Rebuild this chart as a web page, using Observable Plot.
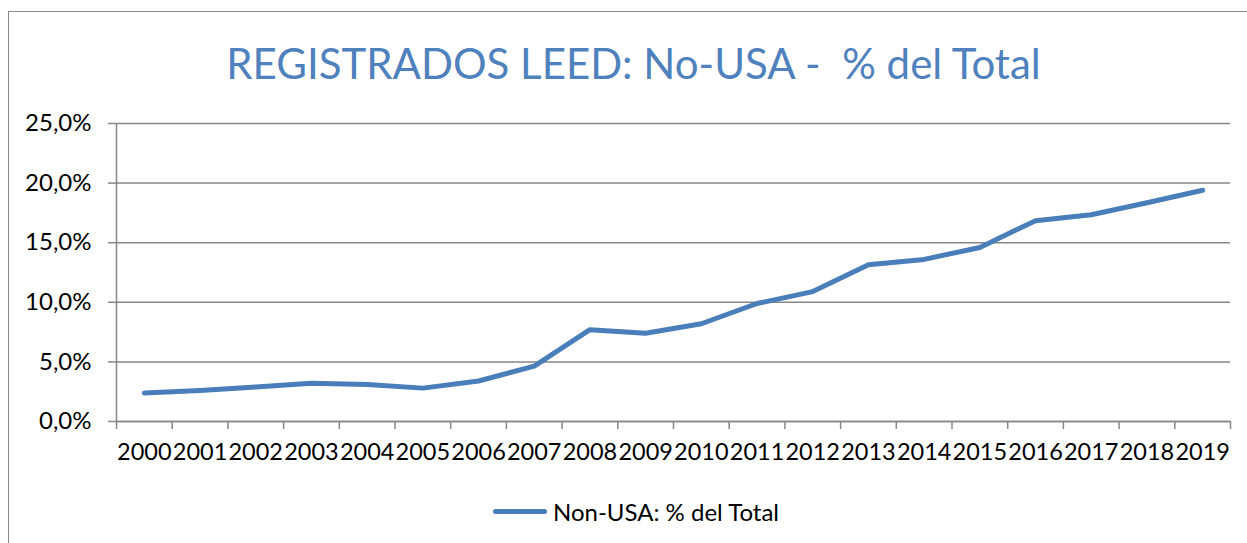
<!DOCTYPE html>
<html>
<head>
<meta charset="utf-8">
<script src="https://cdn.jsdelivr.net/npm/d3@7"></script>
<script src="https://cdn.jsdelivr.net/npm/@observablehq/plot@0.6"></script>
<style>
  html, body { margin: 0; padding: 0; background: #fff; }
  #wrap { position: relative; width: 1247px; height: 543px; overflow: hidden; font-family: Lato, "Open Sans", sans-serif; }
  #frame { position: absolute; left: 8px; top: 11px; width: 1260px; height: 560px; border: 1px solid #8a8a8a; box-sizing: border-box; }
  #title { position: absolute; left: 0; width: 1267px; top: 35px; text-align: center; color: #4F81BD; font-size: 42px; white-space: pre; line-height: 56px; }
  #chart { position: absolute; left: 0; top: 100px; }
  #legend { position: absolute; top: 496px; left: 493px; height: 30px; display: flex; align-items: center; font-size: 24px; color: #000; }
  #legend .sw { width: 54px; height: 5px; background: #4A7EBB; border-radius: 3px; margin-right: 6px; }
</style>
</head>
<body>
<div id="wrap">
  <div id="frame"></div>
  <div id="title"></div>
  <div id="chart"></div>
  <div id="legend"><span class="sw"></span><span id="legtext"></span></div>
</div>
<script>
const titleText = "REGISTRADOS LEED: No-USA -  % del Total";
const seriesName = "Non-USA: % del Total";
const years = [2000, 2001, 2002, 2003, 2004, 2005, 2006, 2007, 2008, 2009,
               2010, 2011, 2012, 2013, 2014, 2015, 2016, 2017, 2018, 2019];
const values = [2.4, 2.6, 2.9, 3.2, 3.1, 2.8, 3.4, 4.65, 7.7, 7.4,
                8.2, 9.9, 10.9, 13.15, 13.6, 14.6, 16.85, 17.35, 18.35, 19.4];
const yTicks = [0, 5, 10, 15, 20, 25];

document.getElementById("title").textContent = titleText;
document.getElementById("legtext").textContent = seriesName;

const data = years.map((y, i) => ({year: y, value: values[i]}));
const boundaries = [years[0] - 0.5, ...years.map(y => y + 0.5)];
const fmt = d => d.toFixed(1).replace(".", ",") + "%";

const chart = Plot.plot({
  width: 1247,
  height: 380,
  marginTop: 23,
  marginBottom: 59,
  marginLeft: 116,
  marginRight: 17,
  style: {fontFamily: "Lato, 'Open Sans', sans-serif", fontSize: "24px", color: "#000", background: "transparent"},
  x: {type: "linear", domain: [years[0] - 0.5, years[years.length - 1] + 0.5]},
  y: {domain: [0, 25]},
  marks: [
    Plot.gridY(yTicks, {stroke: "#868686", strokeOpacity: 1, strokeWidth: 1.5}),
    Plot.axisY(yTicks, {tickSize: 8, tickPadding: 17, tickFormat: fmt, stroke: "#868686", strokeWidth: 1.5, fontSize: 24, label: null, fill: "#000"}),
    Plot.ruleX([years[0] - 0.5], {stroke: "#868686", strokeWidth: 1.5}),
    Plot.axisX(boundaries, {tickSize: 8, tickFormat: () => "", stroke: "#868686", strokeWidth: 1.5, label: null}),
    Plot.axisX(years, {tickSize: 0, tickPadding: 22, tickFormat: d => String(d), fontSize: 23.5, label: null, fill: "#000"}),
    Plot.ruleY([0], {stroke: "#868686", strokeWidth: 1.5}),
    Plot.line(data, {x: "year", y: "value", stroke: "#4A7EBB", strokeWidth: 5, strokeLinecap: "round", strokeLinejoin: "round"})
  ]
});
document.getElementById("chart").appendChild(chart);
</script>
</body>
</html>
